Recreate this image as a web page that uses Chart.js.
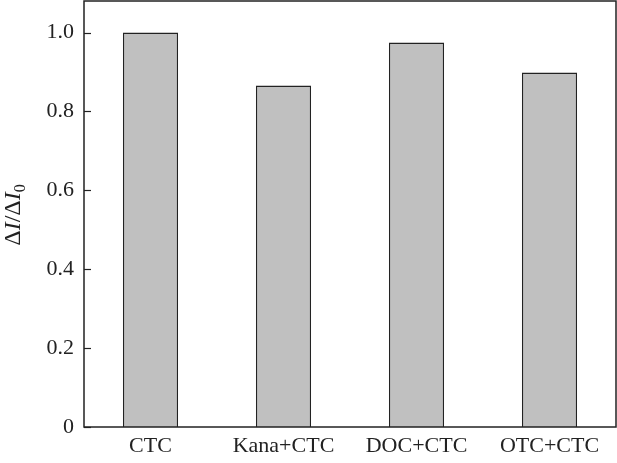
<!DOCTYPE html>
<html>
<head>
<meta charset="utf-8">
<script src="https://cdn.jsdelivr.net/npm/chart.js@4/dist/chart.umd.min.js"></script>
<style>
html,body{margin:0;padding:0;background:#fff;}
#wrap{width:617px;height:463px;position:relative;}
</style>
</head>
<body>
<div id="wrap"><canvas id="c" width="617" height="463"></canvas></div>
<script>
const categories = ["CTC", "Kana+CTC", "DOC+CTC", "OTC+CTC"];
const ratioValues = [1.0, 0.866, 0.975, 0.899];
const yTickValues = [0, 0.2, 0.4, 0.6, 0.8, 1.0];

const FONT = '"Liberation Serif", "Times New Roman", serif';

const framePlugin = {
  id: 'frame',
  afterDraw(chart) {
    const ctx = chart.ctx;
    const {left, right, top, bottom} = chart.chartArea;
    const y = chart.scales.y;
    ctx.save();
    ctx.strokeStyle = '#222';
    ctx.lineWidth = 1.5;
    ctx.strokeRect(left, top, right - left, bottom - top);
    ctx.lineWidth = 1.2;
    y.ticks.forEach(t => {
      const py = Math.round(y.getPixelForValue(t.value)) + 0.5;
      ctx.beginPath();
      ctx.moveTo(left, py);
      ctx.lineTo(left + 7, py);
      ctx.stroke();
    });
    // y-axis title: ΔI/ΔI0 (I italic, 0 subscript)
    const parts = [
      {t: 'Δ', f: '24px ' + FONT, dy: 0},
      {t: 'I', f: 'italic 24px ' + FONT, dy: 0},
      {t: '/', f: '24px ' + FONT, dy: 0},
      {t: 'Δ', f: '24px ' + FONT, dy: 0},
      {t: 'I', f: 'italic 24px ' + FONT, dy: 0},
      {t: '0', f: '16px ' + FONT, dy: 5}
    ];
    let total = 0;
    parts.forEach(p => { ctx.font = p.f; p.w = ctx.measureText(p.t).width; total += p.w; });
    const cy = (top + bottom) / 2 + 1;
    ctx.translate(20, cy);
    ctx.rotate(-Math.PI / 2);
    ctx.fillStyle = '#222';
    ctx.textBaseline = 'alphabetic';
    ctx.textAlign = 'left';
    let x = -total / 2;
    parts.forEach(p => { ctx.font = p.f; ctx.fillText(p.t, x, p.dy); x += p.w; });
    ctx.restore();
  }
};

new Chart(document.getElementById('c'), {
  type: 'bar',
  data: {
    labels: categories,
    datasets: [{
      data: ratioValues,
      backgroundColor: '#c0c0c0',
      borderColor: '#222',
      borderWidth: 1.5,
      borderSkipped: 'bottom',
      barPercentage: 0.415,
      categoryPercentage: 1.0
    }]
  },
  options: {
    responsive: false,
    animation: false,
    events: [],
    layout: {padding: {top: 1, right: 1, left: 0, bottom: 0}},
    plugins: {legend: {display: false}, tooltip: {enabled: false}},
    scales: {
      x: {
        grid: {display: false, drawTicks: false},
        border: {display: false},
        ticks: {color: '#222', font: {family: FONT, size: 22}, padding: 6, maxRotation: 0},
        afterFit(s) { s.height = 36; s.paddingLeft = 0; s.paddingRight = 0; }
      },
      y: {
        min: 0,
        max: 1.08,
        grid: {display: false, drawTicks: false},
        border: {display: false},
        afterBuildTicks(s) { s.ticks = yTickValues.map(v => ({value: v})); },
        ticks: {
          color: '#222',
          font: {family: FONT, size: 22},
          padding: 10,
          callback: v => v === 0 ? '0' : Number(v).toFixed(1)
        },
        afterFit(s) { s.width = 84; s.paddingTop = 0; s.paddingBottom = 0; }
      }
    }
  },
  plugins: [framePlugin]
});
</script>
</body>
</html>
